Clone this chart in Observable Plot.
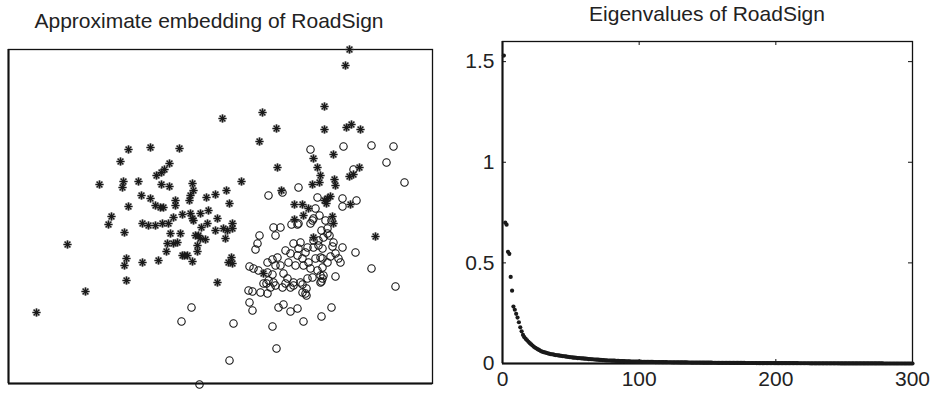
<!DOCTYPE html>
<html>
<head>
<meta charset="utf-8">
<script src="https://cdn.jsdelivr.net/npm/d3@7"></script>
<script src="https://cdn.jsdelivr.net/npm/@observablehq/plot@0.6"></script>
<style>
  html, body { margin: 0; padding: 0; background: #fff; }
  #wrap { position: relative; width: 931px; height: 395px; font-family: "Liberation Sans", Arial, sans-serif; color: #222; }
  .ttl { position: absolute; font-size: 21px; white-space: nowrap; transform: translateX(-50%); line-height: 1; }
  #wrap svg { position: absolute; top: 0; }
</style>
</head>
<body>
<div id="wrap">
  <div class="ttl" id="t1" style="left:209px; top:10px;">Approximate embedding of RoadSign</div>
  <div class="ttl" id="t2" style="left:707px; top:3px;">Eigenvalues of RoadSign</div>
</div>
<script>
// ---- Left panel: approximate embedding (arbitrary units) ----
// class 1 (drawn as asterisks)
const starX = [341,337,316,214,254,268,316,338,343,352,251,305,325,309,312,311,304,326,327,269,233,351,345,341,273,319,316,322,318,286,294,300,342,286,325,324,295,305,367,255,209,
  120,142,171,112,161,156,153,148,91,115,114,130,153,161,184,185,182,181,133,142,147,152,155,120,167,167,198,207,218,221,182,184,192,200,174,185,165,134,140,147,154,160,103,100,116,59,209,199,193,207,215,219,224,224,162,172,187,190,197,192,217,159,165,169,189,189,158,174,176,179,184,150,134,118,116,118,77,28,223,220,224];
const starY = [334,318,277,265,271,255,254,256,259,254,242,225,229,216,208,201,199,204,198,216,202,216,209,207,193,185,183,187,180,179,179,175,179,164,160,167,168,146,147,110,101,
  234,236,235,222,220,214,211,208,199,202,196,202,199,197,200,193,188,183,188,185,178,176,176,177,183,178,186,189,193,180,170,165,170,173,169,163,166,160,158,158,160,160,167,159,151,139,165,160,156,153,155,153,160,155,150,150,148,148,144,145,145,140,140,141,138,132,132,128,128,128,122,123,121,125,118,103,92,71,126,121,120];
// class 2 (drawn as circles)
const circX = [302,335,363,385,378,396,345,290,309,334,348,334,260,274,307,311,302,305,323,319,313,319,321,315,310,325,324,334,327,322,330,347,332,319,312,305,312,314,299,327,363,387,
  265,272,267,283,289,251,249,247,241,245,250,259,264,267,269,259,264,275,279,285,292,294,282,274,298,290,304,317,
  285,292,299,305,310,314,282,289,294,300,307,314,287,295,302,309,314,315,304,312,277,297,290,280,272,260,258,
  255,262,265,267,240,244,252,259,277,285,294,297,313,241,244,270,275,282,289,295,313,323,264,225,221,268,298,183,173,191];
const circY = [234,237,238,237,221,201,214,196,186,185,183,177,188,191,175,168,160,165,163,155,153,150,148,146,143,141,137,136,130,127,125,131,121,121,126,136,108,105,105,107,115,97,
  156,156,148,159,159,148,140,134,117,115,113,121,124,118,126,111,109,110,105,101,101,91,96,96,95,160,163,163,
  140,141,136,143,138,135,130,128,125,121,125,125,118,118,115,113,116,108,106,101,133,131,135,121,118,103,100,
  100,96,101,98,93,92,91,90,100,98,99,90,102,81,73,76,79,72,75,62,67,76,57,60,23,35,88,76,62,-1];

// ---- Right panel: eigenvalues, index 1..300 ----
const eigenvalues = [
  1.53,0.700,0.690,0.555,0.545,0.430,0.362,0.283,0.267,0.247,
  0.228,0.205,0.180,0.160,0.142,0.131,0.122,0.115,0.108,0.101,
  0.095,0.089,0.083,0.078,0.074,0.070,0.066,0.062,0.059,0.057,
  0.055,0.053,0.051,0.049,0.047,0.046,0.045,0.043,0.042,0.041,
  0.040,0.039,0.038,0.037,0.036,0.035,0.034,0.033,0.032,0.031,
  0.030,0.029,0.029,0.028,0.027,0.027,0.026,0.025,0.025,0.024,
  0.024,0.023,0.022,0.022,0.021,0.021,0.020,0.020,0.019,0.019,
  0.018,0.018,0.017,0.017,0.016,0.016,0.015,0.015,0.015,0.014,
  0.014,0.014,0.013,0.013,0.013,0.012,0.012,0.012,0.012,0.011,
  0.011,0.011,0.011,0.010,0.010,0.010,0.010,0.009,0.009,0.009,
  .0090,.0088,.0086,.0085,.0083,.0082,.0080,.0079,.0077,.0076,
  .0075,.0073,.0072,.0071,.0070,.0069,.0068,.0066,.0065,.0064,
  .0063,.0062,.0061,.0060,.0059,.0058,.0057,.0057,.0056,.0055,
  .0054,.0053,.0052,.0052,.0051,.0050,.0049,.0048,.0048,.0047,
  .0046,.0046,.0045,.0044,.0044,.0043,.0042,.0042,.0041,.0040,
  .0040,.0039,.0039,.0038,.0037,.0037,.0036,.0036,.0035,.0035,
  .0034,.0034,.0033,.0033,.0032,.0032,.0031,.0031,.0030,.0030,
  .0029,.0029,.0028,.0028,.0028,.0027,.0027,.0026,.0026,.0026,
  .0025,.0025,.0024,.0024,.0024,.0023,.0023,.0023,.0022,.0022,
  .0021,.0021,.0021,.0020,.0020,.0020,.0019,.0019,.0019,.0018,
  .0018,.0018,.0017,.0017,.0017,.0016,.0016,.0016,.0016,.0015,
  .0015,.0015,.0014,.0014,.0014,.0014,.0013,.0013,.0013,.0013,
  .0012,.0012,.0012,.0012,.0011,.0011,.0011,.0011,.0010,.0010,
  .0010,.0010,.0009,.0009,.0009,.0009,.0009,.0008,.0008,.0008,
  .0008,.0007,.0007,.0007,.0007,.0007,.0006,.0006,.0006,.0006,
  .0006,.0005,.0005,.0005,.0005,.0005,.0005,.0004,.0004,.0004,
  .0004,.0004,.0004,.0003,.0003,.0003,.0003,.0003,.0003,.0003,
  .0002,.0002,.0002,.0002,.0002,.0002,.0002,.0002,.0001,.0001,
  .0001,.0001,.0001,.0001,.0001,.0001,.0001,.0001,.0001,.0001,
  0,0,0,0,0,0,0,0,0,0
];
const xTicks = [0, 100, 200, 300];
const yTicks = [0, 0.5, 1, 1.5];

// build tables
const stars = starX.map((x, i) => ({x, y: starY[i]}));
const circles = circX.map((x, i) => ({x, y: circY[i]}));
const eig = eigenvalues.map((v, i) => ({k: i + 1, v}));

// 8-spoke asterisk like MATLAB '*'
const asterisk8 = {
  draw(ctx, size) {
    const r = Math.sqrt(size / Math.PI);
    for (let a = 0; a < 4; a++) {
      const t = a * Math.PI / 4;
      const c = Math.cos(t) * r, s = Math.sin(t) * r;
      ctx.moveTo(c, s); ctx.lineTo(-c, -s);
    }
  }
};

const wrap = document.getElementById("wrap");

const left = Plot.plot({
  width: 440, height: 395,
  marginLeft: 8, marginRight: 8, marginTop: 49, marginBottom: 12,
  x: {domain: [0, 424], axis: null},
  y: {domain: [0, 334], axis: null},
  style: {background: "transparent", overflow: "visible"},
  marks: [
    Plot.frame({stroke: "#111", strokeWidth: 1.3}),
    Plot.ruleX([0], {stroke: "#111", strokeWidth: 2}),
    Plot.ruleY([0], {stroke: "#111", strokeWidth: 2}),
    Plot.dot(circles, {x: "x", y: "y", r: 3.7, stroke: "#111", strokeWidth: 1.1, fill: "none", clip: false}),
    Plot.dot(stars, {x: "x", y: "y", r: 4.2, symbol: asterisk8, stroke: "#555", strokeWidth: 2.2, strokeOpacity: 0.6, fill: "none"}),
    Plot.dot(stars, {x: "x", y: "y", r: 4, symbol: asterisk8, stroke: "#1a1a1a", strokeWidth: 1.2, fill: "none"})
  ]
});
left.style.left = "0px";
wrap.appendChild(left);

const fh = 395 - 41 - 32;
const right = Plot.plot({
  width: 491, height: 395,
  marginLeft: 62, marginRight: 19, marginTop: 41, marginBottom: 32,
  x: {domain: [0, 300]},
  y: {domain: [0, 1.6]},
  style: {background: "transparent", overflow: "visible", fontFamily: "Liberation Sans, Arial, sans-serif"},
  marks: [
    Plot.frame({stroke: "#111", strokeWidth: 1.3}),
    Plot.ruleX(xTicks, {stroke: "#111", strokeWidth: 1, insetTop: fh - 4}),
    Plot.ruleX(xTicks, {stroke: "#111", strokeWidth: 1, insetBottom: fh - 4}),
    Plot.ruleY(yTicks, {stroke: "#111", strokeWidth: 1, insetRight: 410 - 4}),
    Plot.ruleY(yTicks, {stroke: "#111", strokeWidth: 1, insetLeft: 410 - 4}),
    Plot.axisX({ticks: xTicks, tickSize: 0, tickPadding: 8, fontSize: 21, fill: "#222", tickFormat: d => String(d), label: null}),
    Plot.axisY({ticks: yTicks, tickSize: 0, tickPadding: 8, fontSize: 21, fill: "#222", tickFormat: d => String(d), label: null}),
    Plot.ruleX([0], {stroke: "#111", strokeWidth: 2}),
    Plot.ruleY([0], {stroke: "#111", strokeWidth: 2}),
    Plot.dot(eig, {x: "k", y: "v", r: 2.1, fill: "#1a1a1a", stroke: "none"})
  ]
});
right.style.left = "440px";
wrap.appendChild(right);
</script>
</body>
</html>
